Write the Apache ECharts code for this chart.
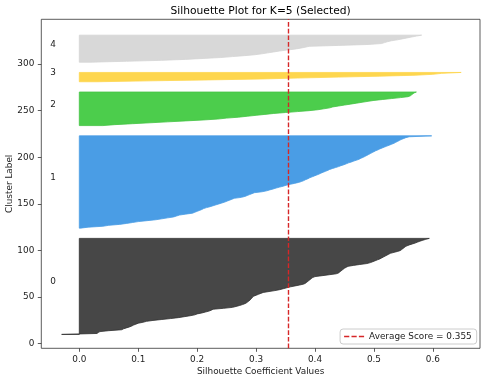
<!DOCTYPE html>
<html>
<head>
<meta charset="utf-8">
<script src="https://cdn.jsdelivr.net/npm/echarts@6/dist/echarts.min.js"></script>
<style>html,body{margin:0;padding:0;background:#fff}#chart{width:485px;height:382px}</style>
</head>
<body>
<div id="chart"></div>
<script>
// ---- data (silhouette values per sample, sorted ascending, per cluster) ----
const clusterNames = ['0', '1', '2', '3', '4'];
const cluster0 = [-0.030, 0.030, 0.032, 0.035, 0.050, 0.072, 0.075, 0.080, 0.085, 0.089,
  0.092, 0.096, 0.100, 0.108, 0.114, 0.125, 0.140, 0.155, 0.168, 0.178,
  0.188, 0.196, 0.200, 0.208, 0.214, 0.220, 0.224, 0.227, 0.245, 0.260,
  0.266, 0.272, 0.277, 0.281, 0.284, 0.286, 0.288, 0.290, 0.291, 0.293,
  0.294, 0.296, 0.300, 0.304, 0.308, 0.312, 0.322, 0.332, 0.340, 0.346,
  0.352, 0.358, 0.366, 0.374, 0.381, 0.384, 0.386, 0.388, 0.390, 0.392,
  0.394, 0.396, 0.400, 0.412, 0.424, 0.436, 0.440, 0.442, 0.444, 0.446,
  0.448, 0.450, 0.453, 0.456, 0.465, 0.476, 0.488, 0.494, 0.498, 0.502,
  0.506, 0.510, 0.513, 0.516, 0.519, 0.522, 0.525, 0.528, 0.534, 0.540,
  0.545, 0.547, 0.549, 0.551, 0.553, 0.556, 0.560, 0.565, 0.570, 0.574,
  0.578, 0.583, 0.588, 0.594];
const cluster1 = [0.002, 0.015, 0.040, 0.050, 0.068, 0.080, 0.090, 0.100, 0.115, 0.130,
  0.140, 0.150, 0.160, 0.165, 0.170, 0.180, 0.192, 0.196, 0.200, 0.204,
  0.208, 0.211, 0.216, 0.222, 0.227, 0.232, 0.237, 0.242, 0.247, 0.251,
  0.255, 0.259, 0.263, 0.275, 0.281, 0.285, 0.289, 0.293, 0.297, 0.310,
  0.318, 0.323, 0.329, 0.334, 0.340, 0.346, 0.351, 0.358, 0.365, 0.372,
  0.377, 0.381, 0.384, 0.388, 0.391, 0.395, 0.399, 0.403, 0.407, 0.410,
  0.414, 0.418, 0.422, 0.425, 0.430, 0.435, 0.440, 0.444, 0.449, 0.453,
  0.457, 0.462, 0.466, 0.471, 0.475, 0.478, 0.482, 0.485, 0.488, 0.491,
  0.494, 0.497, 0.500, 0.503, 0.507, 0.510, 0.514, 0.518, 0.522, 0.526,
  0.530, 0.534, 0.537, 0.540, 0.543, 0.546, 0.550, 0.554, 0.560, 0.598];
const cluster2 = [0.040, 0.060, 0.090, 0.120, 0.150, 0.180, 0.210, 0.235, 0.250, 0.270,
  0.285, 0.300, 0.315, 0.330, 0.350, 0.370, 0.390, 0.405, 0.415, 0.425,
  0.430, 0.440, 0.450, 0.460, 0.470, 0.480, 0.490, 0.500, 0.515, 0.530,
  0.545, 0.558, 0.562, 0.564, 0.566, 0.568, 0.572];
const cluster3 = [0.030, 0.120, 0.220, 0.310, 0.370, 0.440, 0.510, 0.570, 0.600, 0.615, 0.648];
const cluster4 = [0.020, 0.080, 0.140, 0.180, 0.210, 0.240, 0.260, 0.280, 0.298, 0.310,
  0.320, 0.330, 0.340, 0.352, 0.365, 0.375, 0.383, 0.390, 0.440, 0.490,
  0.513, 0.518, 0.523, 0.530, 0.540, 0.548, 0.556, 0.564, 0.572, 0.581];
const avgScore = 0.355;
const xTicks = [0.0, 0.1, 0.2, 0.3, 0.4, 0.5, 0.6];
const yTicks = [0, 50, 100, 150, 200, 250, 300];

// ---- styling ----
const clusterColors = ['#474747', '#4a9de5', '#4ccd4c', '#fed64e', '#d8d8d8'];
const clusterEdges  = ['#303030', '#4a9de5', '#44c444', '#fed64e', '#d4d4d4'];
const FONT = 'DejaVu Sans';
const TXT = '#222';
const FS = 8.9;

const clusters = [cluster0, cluster1, cluster2, cluster3, cluster4];
const starts = [];
let yLower = 10;
clusters.forEach(c => { starts.push(yLower); yLower += c.length + 10; });

const series = clusters.map((vals, ci) => {
  const start = starts[ci];
  return {
    type: 'custom',
    name: 'cluster ' + clusterNames[ci],
    data: vals.map((v, i) => [v, start + i]),
    encode: { x: 0, y: 1 },
    silent: true,
    renderItem: function (params, api) {
      if (params.dataIndex !== 0) return null;
      const pts = [api.coord([0, start])];
      vals.forEach((v, i) => pts.push(api.coord([v, start + i])));
      pts.push(api.coord([0, start + vals.length - 1]));
      const lp = api.coord([-0.05, start + 0.5 * vals.length]);
      return {
        type: 'group',
        children: [
          { type: 'polygon', shape: { points: pts },
            style: { fill: clusterColors[ci], stroke: clusterEdges[ci], lineWidth: 0.8 } },
          { type: 'text', x: lp[0] + 0.5, y: lp[1] - 3.8,
            style: { text: clusterNames[ci], fill: TXT, font: FS + 'px "' + FONT + '"',
                     textAlign: 'left', textVerticalAlign: 'middle' } }
        ]
      };
    }
  };
});

const X_MIN = -0.0645, X_MAX = 0.680, Y_MIN = -4.9, Y_MAX = 348;

series.push({
  type: 'line',
  name: 'Average Score = ' + avgScore.toFixed(3),
  data: [[avgScore, Y_MIN], [avgScore, Y_MAX]],
  symbol: 'none',
  silent: true,
  itemStyle: { color: '#d62728' },
  lineStyle: { color: '#d62728', width: 1.4, type: [4.7, 2] },
  z: 5
});

const chart = echarts.init(document.getElementById('chart'), null, { renderer: 'canvas' });
chart.setOption({
  animation: false,
  backgroundColor: '#fff',
  title: {
    text: 'Silhouette Plot for K=5 (Selected)',
    left: 260.6, top: 5, textAlign: 'center', padding: 0,
    textStyle: { fontFamily: FONT, fontSize: 10.7, fontWeight: 'normal', color: '#000', lineHeight: 13 }
  },
  grid: { left: 41.3, right: 5, top: 19.3, bottom: 33.7, containLabel: false, outerBoundsMode: 'none',
          show: true, borderColor: '#333', borderWidth: 0.8, backgroundColor: 'transparent' },
  legend: {
    right: 8.3, bottom: 38, orient: 'horizontal',
    padding: [3, 5, 3, 4], itemWidth: 20, itemHeight: 10, itemGap: 5,
    backgroundColor: 'rgba(255,255,255,0.8)', borderColor: '#cccccc', borderWidth: 1, borderRadius: 3,
    selectedMode: false,
    textStyle: { fontFamily: FONT, fontSize: FS, color: TXT },
    data: [{ name: 'Average Score = ' + avgScore.toFixed(3),
             icon: 'path://M0,0h5.2v1.4h-5.2z M7.4,0h5.2v1.4h-5.2z M14.8,0h5.2v1.4h-5.2z',
             itemStyle: { color: '#d62728' } }]
  },
  xAxis: {
    type: 'value', min: X_MIN, max: X_MAX, position: 'bottom',
    name: 'Silhouette Coefficient Values', nameLocation: 'middle', nameGap: 18.5, nameMoveOverlap: false,
    nameTextStyle: { fontFamily: FONT, fontSize: FS, color: TXT },
    axisLine: { show: false, onZero: false },
    splitLine: { show: false },
    axisTick: { show: true, customValues: xTicks, length: 3.5, lineStyle: { color: '#333', width: 0.8 } },
    axisLabel: { customValues: xTicks, margin: 6.5, fontFamily: FONT, fontSize: FS, color: TXT,
                 formatter: v => Number(v).toFixed(1) }
  },
  yAxis: {
    type: 'value', min: Y_MIN, max: Y_MAX, position: 'left',
    name: 'Cluster Label', nameLocation: 'middle', nameGap: 27, nameMoveOverlap: false,
    nameTextStyle: { fontFamily: FONT, fontSize: FS, color: TXT },
    axisLine: { show: false, onZero: false },
    splitLine: { show: false },
    axisTick: { show: true, customValues: yTicks, length: 3.5, lineStyle: { color: '#333', width: 0.8 } },
    axisLabel: { customValues: yTicks, margin: 7, fontFamily: FONT, fontSize: FS, color: TXT,
                 formatter: v => String(Math.round(v)) }
  },
  series: series
});
</script>
</body>
</html>
